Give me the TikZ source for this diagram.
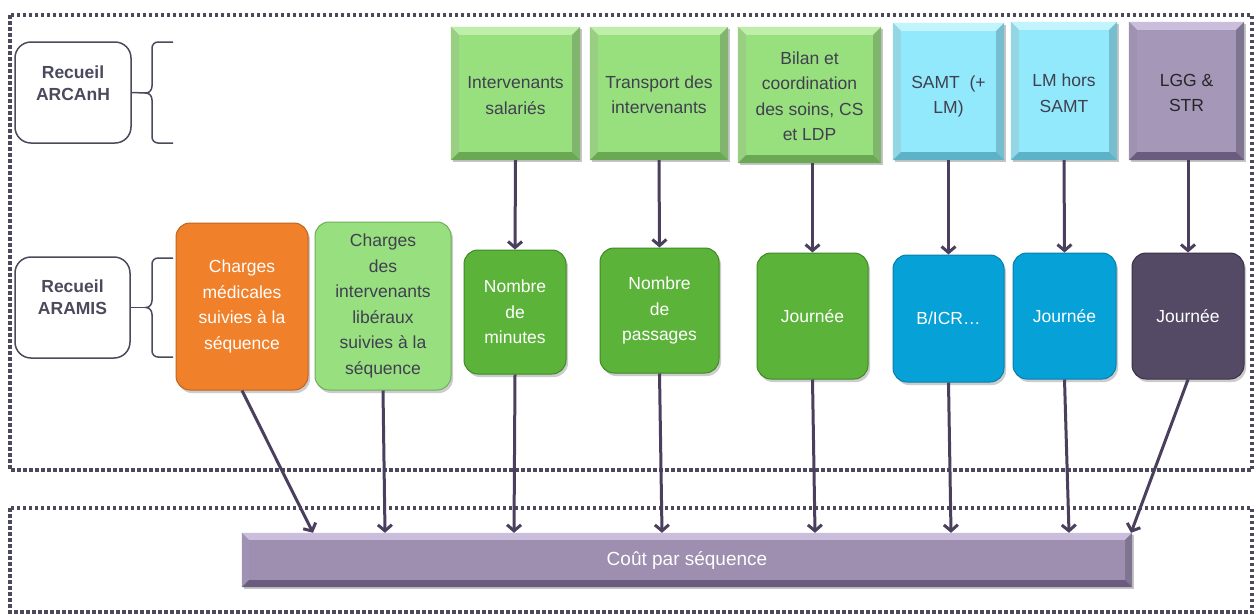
\documentclass[tikz,border=0pt]{standalone}
\usepackage{fontspec}
\setmainfont{Liberation Sans}
\usetikzlibrary{arrows.meta,shadows,calc}
\definecolor{frame}{HTML}{4A4A5C}
\definecolor{arrowc}{HTML}{4B3F5E}
\definecolor{txtdark}{HTML}{404050}
\definecolor{gfill}{HTML}{98E07E}
\definecolor{glight}{HTML}{BDEEAA}
\definecolor{gdark}{HTML}{6AA853}
\definecolor{cfill}{HTML}{91E9FB}
\definecolor{clight}{HTML}{C2F4FD}
\definecolor{cdark}{HTML}{5CB2C6}
\definecolor{pfill}{HTML}{A597B8}
\definecolor{plight}{HTML}{CBBEDC}
\definecolor{pdark}{HTML}{6A5C7E}
\definecolor{bfill}{HTML}{9E8EAF}
\definecolor{orangef}{HTML}{F0802A}
\definecolor{oranged}{HTML}{C0651F}
\definecolor{lgreenf}{HTML}{98DF7F}
\definecolor{lgreend}{HTML}{6DAF57}
\definecolor{greenf}{HTML}{5CB33A}
\definecolor{greend}{HTML}{3E8A25}
\definecolor{bluef}{HTML}{06A1D7}
\definecolor{blued}{HTML}{0480AE}
\definecolor{darkf}{HTML}{544A65}
\definecolor{darkd}{HTML}{3A3147}
\newcommand\bevbox[4]{%
  \fill[#2] (#1.north west) -- (#1.north east) -- ([shift={(-#4,#4)}]#1.north east) -- ([shift={(#4,#4)}]#1.north west) -- cycle;
  \fill[#2!55!#3] (#1.north west) -- ([shift={(#4,#4)}]#1.north west) -- ([shift={(#4,-#4)}]#1.south west) -- (#1.south west) -- cycle;
  \fill[#3!85!white] (#1.north east) -- (#1.south east) -- ([shift={(-#4,-#4)}]#1.south east) -- ([shift={(-#4,#4)}]#1.north east) -- cycle;
  \fill[#3] (#1.south west) -- (#1.south east) -- ([shift={(-#4,-#4)}]#1.south east) -- ([shift={(#4,-#4)}]#1.south west) -- cycle;
}
\begin{document}
\begin{tikzpicture}[x=1pt,y=-1pt,
  txt/.style={font=\fontsize{17.5}{25.5}\selectfont, align=center, inner sep=0pt},
  topbox/.style={txt, text=txtdark, drop shadow={shadow xshift=2pt, shadow yshift=-2pt, opacity=0.45}},
  midbox/.style={txt, rounded corners=14pt, line width=1pt, drop shadow={shadow xshift=2pt, shadow yshift=-3pt, opacity=0.4}},
  recbox/.style={draw=frame, line width=1.5pt, rounded corners=16pt, fill=white},
  rectext/.style={font=\fontsize{17.5}{22}\selectfont\bfseries, align=center, text=frame, inner sep=0pt},
  brace/.style={draw=frame, line width=1.5pt},
  conn/.style={draw=arrowc, line width=3pt, -{Straight Barb[length=6pt,width=14pt]}},
  dotframe/.style={draw=frame, line width=3.5pt, dash pattern=on 3.5pt off 2.5pt}]
\useasboundingbox (0,0) rectangle (1257,614);
\fill[white] (0,0) rectangle (1257,614);

% dotted frames
\draw[dotframe] (10,15) rectangle (1252,470);
\draw[dotframe] (10,508) rectangle (1252,612);

% Recueil boxes
\node[recbox, minimum width=116pt, minimum height=101pt] (r1) at (73,92.5) {};
\node[rectext] (r1t) at (73,83) {Recueil\\ARCAnH};
\node[recbox, minimum width=115pt, minimum height=101pt] (r2) at (72.5,307.5) {};
\node[rectext] (r2t) at (72.5,297.5) {Recueil\\ARAMIS};

% braces
\coordinate (bt1) at (146,93);
\coordinate (bt2) at (146,307.5);
\draw[brace] (173,42) -- (158,42) to[out=180,in=90] (152,48) -- (152,86) to[out=-90,in=0] (bt1) to[out=0,in=90] (152,100) -- (152,137) to[out=-90,in=180] (158,143) -- (173,143);
\draw[brace] (r1.east) -- (bt1);
\draw[brace] (173,258) -- (158,258) to[out=180,in=90] (152,264) -- (152,300.5) to[out=-90,in=0] (bt2) to[out=0,in=90] (152,314.5) -- (152,351) to[out=-90,in=180] (158,357) -- (173,357);
\draw[brace] (r2.east) -- (bt2);

% top bevel boxes
\node[topbox, fill=gfill, minimum width=129pt, minimum height=133pt] (t1) at (515.5,93.5) {};
\bevbox{t1}{glight}{gdark}{8}
\node[txt, text=txtdark] at ([yshift=-2pt]t1.center) {Intervenants\\salariés};
\node[topbox, fill=gfill, minimum width=138pt, minimum height=133pt] (t2) at (659,93.5) {};
\bevbox{t2}{glight}{gdark}{8}
\node[txt, text=txtdark] at ([yshift=-1pt]t2.center) {Transport des\\intervenants};
\node[topbox, fill=gfill, minimum width=143pt, minimum height=136pt] (t3) at (809.5,95) {};
\bevbox{t3}{glight}{gdark}{8}
\node[txt, text=txtdark] at ([yshift=-1pt]t3.center) {Bilan et\\coordination\\des soins, CS\\et LDP};
\node[topbox, fill=cfill, minimum width=111pt, minimum height=137pt] (t4) at (948.5,91.5) {};
\bevbox{t4}{clight}{cdark}{8}
\node[txt, text=txtdark] at ([yshift=-5pt]t4.center) {SAMT~~(+\\LM)};
\node[topbox, fill=cfill, minimum width=106pt, minimum height=138pt] (t5) at (1064,91) {};
\bevbox{t5}{clight}{cdark}{8}
\node[txt, text=txtdark] at ([yshift=-2pt]t5.center) {LM hors\\SAMT};
\node[topbox, fill=pfill, minimum width=115pt, minimum height=138pt] (t6) at (1186.5,91) {};
\bevbox{t6}{plight}{pdark}{8}
\node[txt, text=black!85] at ([yshift=-2pt]t6.center) {LGG \&\\STR};

% middle rounded boxes
\node[midbox, fill=orangef, draw=oranged, text=white, minimum width=132pt, minimum height=167pt] (m1) at (242,306.5) {Charges\\médicales\\suivies à la\\séquence};
\node[midbox, fill=lgreenf, draw=lgreend, text=txtdark, minimum width=136pt, minimum height=168pt] (m2) at (383,306) {Charges\\des\\intervenants\\libéraux\\suivies à la\\séquence};
\node[midbox, fill=greenf, draw=greend, text=white, minimum width=102pt, minimum height=124pt] (m3) at (515,312) {Nombre\\de\\minutes};
\node[midbox, fill=greenf, draw=greend, text=white, minimum width=119pt, minimum height=125pt] (m4) at (659.5,310.5) {Nombre\\de\\passages};
\node[midbox, fill=greenf, draw=greend, text=white, minimum width=111pt, minimum height=126pt] (m5) at (812.5,316) {Journée};
\node[midbox, fill=bluef, draw=blued, text=white, minimum width=111pt, minimum height=127pt] (m6) at (948.5,318.5) {B/ICR…};
\node[midbox, fill=bluef, draw=blued, text=white, minimum width=103pt, minimum height=126pt] (m7) at (1064.5,316) {Journée};
\node[midbox, fill=darkf, draw=darkd, text=white, minimum width=112pt, minimum height=126pt] (m8) at (1188,316) {Journée};

% bottom bar
\node[topbox, fill=bfill, minimum width=890pt, minimum height=54pt] (bar) at (687,560) {};
\bevbox{bar}{plight}{pdark}{7}
\node[txt, text=white, font=\fontsize{19}{22}\selectfont] at (bar) {Coût par séquence};

% coordinates on bar
\coordinate (b1) at (313,0 |- bar.north);
\coordinate (b2) at (385,0 |- bar.north);
\coordinate (b3) at (514,0 |- bar.north);
\coordinate (b4) at (662,0 |- bar.north);
\coordinate (b5) at (815,0 |- bar.north);
\coordinate (b6) at (951,0 |- bar.north);
\coordinate (b7) at (1069,0 |- bar.north);
\coordinate (b8) at (1131,0 |- bar.north);

% connectors top -> middle
\draw[conn] (t1.south) -- (m3.north);
\draw[conn] (t2.south) -- (m4.north);
\draw[conn] (t3.south -| m5.north) -- (m5.north);
\draw[conn] (t4.south) -- (m6.north);
\draw[conn] (t5.south) -- (m7.north);
\draw[conn] (t6.south -| m8.north) -- (m8.north);

% connectors middle -> bar
\draw[conn] (m1.south) -- (b1);
\draw[conn] (m2.south) -- (b2);
\draw[conn] (m3.south) -- (b3);
\draw[conn] (m4.south) -- (b4);
\draw[conn] (m5.south) -- (b5);
\draw[conn] (m6.south) -- (b6);
\draw[conn] (m7.south) -- (b7);
\draw[conn] (m8.south) -- (b8);
\end{tikzpicture}
\end{document}
